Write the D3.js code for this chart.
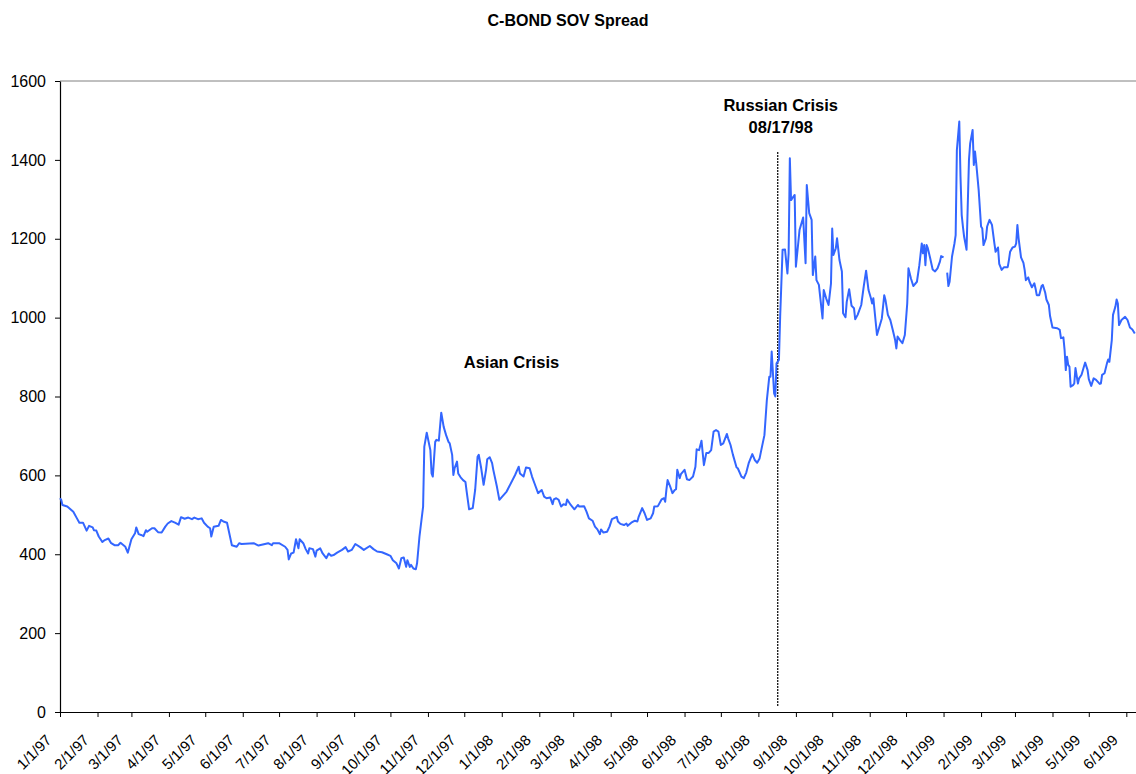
<!DOCTYPE html>
<html>
<head>
<meta charset="utf-8">
<script src="https://cdn.jsdelivr.net/npm/d3@7"></script>
<style>
body { margin: 0; background: #fff; }
text { font-family: "Liberation Sans", Arial, sans-serif; }
</style>
</head>
<body>
<script>
// C-BOND sovereign spread (days since 1/1/97, spread in bp)
var startDate = Date.UTC(1997, 0, 1);
var endDay = 889;

var dayOffsets = [
  0,1,2,6,11,14,16,19,22,24,27,28,30,32,35,37,40,42,45,48,50,54,56,59,62,63,65,67,69,71,72,76,78,81,84,87,89,92,95,98,
  100,103,106,109,111,114,117,119,122,124,125,127,131,133,135,138,142,146,148,150,160,164,172,175,176,181,186,188,189,191,
  193,195,197,198,201,203,205,206,209,211,212,215,217,220,222,224,226,229,233,236,238,241,244,248,251,256,259,262,266,270,
  273,275,278,280,282,284,286,287,289,290,292,294,295,297,300,301,303,306,307,308,310,311,313,315,317,319,321,322,324,325,
  326,328,329,331,333,335,336,338,341,343,345,346,348,350,352,353,355,357,358,361,363,369,376,379,380,383,385,388,390,392,
  395,398,400,402,405,407,408,410,412,414,416,418,419,422,425,428,429,433,435,437,440,442,444,446,447,449,452,454,456,460,
  461,463,466,468,469,472,475,477,478,481,483,485,488,490,491,494,497,499,500,501,502,504,506,508,509,510,512,513,516,518,
  520,523,525,526,528,530,532,534,536,538,540,542,544,546,548,551,552,554,556,559,560,563,565,567,569,572,574,576,578,580,
  582,584,586,587,588,590,591,592,594,595,597,599,601,602,603,604,606,607,608,611,614,616,617,619,621,622,624,625,627,630,
  631,633,635,637,638,639,641,642,644,646,647,649,650,652,654,656,657,659,662,664,666,668,670,671,672,675,677,679,681,682,
  684,686,688,690,691,692,694,696,698,700,701,703,705,708,710,712,713,714,715,716,717,719,721,723,725,727,728,730,731,
  733,734,735,737,739,740,741,743,744,745,746,747,749,751,752,754,755,756,757,759,761,762,763,765,766,768,770,772,773,775,
  776,778,780,783,784,785,787,789,790,791,792,794,796,797,798,800,801,803,805,806,807,809,811,812,814,815,817,818,820,824,
  826,827,829,830,831,832,833,834,835,837,838,839,841,842,844,846,847,849,850,852,854,856,859,860,861,863,865,866,867,869,
  870,872,873,874,875,877,880,882,884,886,888
];

var spread = [
  542,538,525,521,508,491,480,480,460,472,468,461,460,445,431,436,440,429,423,423,429,419,404,438,453,468,451,449,446,461,457,466,466,456,455,470,478,484,480,475,
  494,490,493,489,493,489,491,480,470,466,445,470,472,487,483,480,423,419,428,426,428,422,428,423,428,428,419,411,387,402,
  404,438,415,438,428,413,402,415,413,394,409,415,402,390,402,396,398,404,411,418,407,411,426,418,411,421,413,407,405,400,
  396,385,377,364,390,392,368,385,368,373,364,362,377,445,521,673,708,664,605,597,685,690,688,759,723,702,685,681,652,601,
  618,635,605,595,588,583,559,514,517,563,647,652,618,576,614,641,646,631,614,571,538,559,601,622,605,597,620,618,597,580,
  555,563,546,542,544,527,539,542,538,521,527,525,539,525,514,525,521,522,508,491,485,470,463,451,463,455,457,470,489,495,
  483,477,474,478,472,480,485,483,494,517,504,487,491,504,521,522,539,542,533,563,588,573,555,563,565,614,593,603,614,590,
  588,597,622,666,664,688,626,657,657,664,711,715,711,677,681,705,694,677,652,620,618,597,593,607,631,654,639,632,643,673,
  702,791,850,850,914,808,800,884,893,1002,1172,1173,1112,1163,1404,1298,1307,1311,1129,1222,1254,1138,1336,1265,1248,1108,1155,1095,1083,998,
  1070,1049,1032,1087,1226,1159,1176,1201,1146,1117,1011,1001,1040,1072,1030,1024,996,1007,1032,1078,1119,1070,1049,1036,1049,956,977,998,1057,1045,
  1007,994,969,943,922,952,943,935,956,1036,1125,1100,1080,1091,1133,1188,1163,1184,1133,1184,1176,1150,1122,1117,1125,1142,1156,1153,null,
  1114,1080,1091,1155,1188,1209,1425,1497,1357,1260,1231,1205,1172,1400,1442,1476,1387,1421,1391,1324,1231,1226,1184,1201,1231,1248,1235,1188,1167,1178,
  1136,1121,1128,1128,1146,1167,1178,1180,1188,1235,1201,1153,1139,1121,1095,1102,1091,1077,1087,1074,1057,1057,1080,1083,1063,1046,1032,1004,975,973,
  969,948,950,918,867,901,880,876,825,829,833,872,833,846,855,876,886,867,844,827,846,842,832,833,855,859,884,894,888,943,
  1007,1028,1046,1036,981,994,1002,994,975,970,960
];

var yTicks = [0, 200, 400, 600, 800, 1000, 1200, 1400, 1600];

// annotations: Russian crisis date and the line's value span
var crisisDay = 593;
var crisisSpan = [15, 1420];
var crisisLabel = ["Russian Crisis", "08/17/98"];
var asianLabel = "Asian Crisis";
var asianDay = 373;
var asianLevel = 872;
var titleText = "C-BOND SOV Spread";

if (dayOffsets.length !== spread.length) throw new Error("length mismatch " + dayOffsets.length + " " + spread.length);

var width = 1136, height = 774;
var plotLeft = 60, plotRight = 1136, plotTop = 81, plotBottom = 712;

var toDate = function(d) { return d3.utcDay.offset(new Date(startDate), d); };

var data = dayOffsets.map(function(d, i) { return { date: toDate(d), v: spread[i] }; });

var svg = d3.select("body").append("svg")
  .attr("width", width)
  .attr("height", height);

var x = d3.scaleUtc()
  .domain([toDate(0), toDate(endDay)])
  .range([plotLeft, plotRight]);

var y = d3.scaleLinear()
  .domain([0, 1600])
  .range([plotBottom, plotTop]);

// top border of plot area
svg.append("line")
  .attr("x1", plotLeft).attr("x2", plotRight)
  .attr("y1", y(1600)).attr("y2", y(1600))
  .attr("stroke", "#808080").attr("stroke-width", 1);

// y axis
var yAxis = svg.append("g")
  .attr("transform", "translate(" + plotLeft + ",0)")
  .call(d3.axisLeft(y).tickValues(yTicks).tickFormat(d3.format("d"))
    .tickSize(5).tickPadding(9).tickSizeOuter(0));
yAxis.select(".domain").attr("stroke", "#000").attr("stroke-width", 1.2);
yAxis.selectAll(".tick line").attr("stroke", "#000");
yAxis.selectAll("text").attr("font-size", 16).attr("fill", "#000")
  .style("font-family", '"Liberation Sans", Arial, sans-serif');

// x axis, a tick every month
var xAxis = svg.append("g")
  .attr("transform", "translate(0," + plotBottom + ")")
  .call(d3.axisBottom(x)
    .ticks(d3.utcMonth.every(1))
    .tickFormat(d3.utcFormat("%-m/%-d/%y"))
    .tickSize(5)
    .tickSizeOuter(0));
xAxis.select(".domain").attr("stroke", "#000").attr("stroke-width", 1.2);
xAxis.selectAll(".tick line").attr("stroke", "#000");
xAxis.selectAll("text")
  .attr("font-size", 15)
  .attr("fill", "#000")
  .style("font-family", '"Liberation Sans", Arial, sans-serif')
  .attr("text-anchor", "end")
  .attr("x", 0).attr("y", 0).attr("dy", 0)
  .attr("transform", "translate(-8,29) rotate(-45)");

// crisis marker
svg.append("line")
  .attr("x1", x(toDate(crisisDay))).attr("x2", x(toDate(crisisDay)))
  .attr("y1", y(crisisSpan[0])).attr("y2", y(crisisSpan[1]))
  .attr("stroke", "#000")
  .attr("stroke-width", 1.2)
  .attr("stroke-dasharray", "2,1");

// spread line
var line = d3.line()
  .defined(function(d) { return d.v != null; })
  .x(function(d) { return x(d.date); })
  .y(function(d) { return y(d.v); });

svg.append("path")
  .datum(data)
  .attr("fill", "none")
  .attr("stroke", "#3366ff")
  .attr("stroke-width", 2)
  .attr("stroke-linejoin", "round")
  .attr("d", line);

// title
svg.append("text")
  .attr("x", width / 2).attr("y", 26)
  .attr("text-anchor", "middle")
  .attr("font-size", 16).attr("font-weight", "bold")
  .text(titleText);

// annotations
svg.append("text")
  .attr("x", x(toDate(asianDay))).attr("y", y(asianLevel))
  .attr("text-anchor", "middle")
  .attr("font-size", 16.5).attr("font-weight", "bold")
  .text(asianLabel);

svg.selectAll("text.crisis").data(crisisLabel).enter()
  .append("text")
  .attr("class", "crisis")
  .attr("x", x(toDate(crisisDay)) + 3)
  .attr("y", function(d, i) { return 111 + i * 22; })
  .attr("text-anchor", "middle")
  .attr("font-size", 16.5).attr("font-weight", "bold")
  .text(function(d) { return d; });
</script>
</body>
</html>
